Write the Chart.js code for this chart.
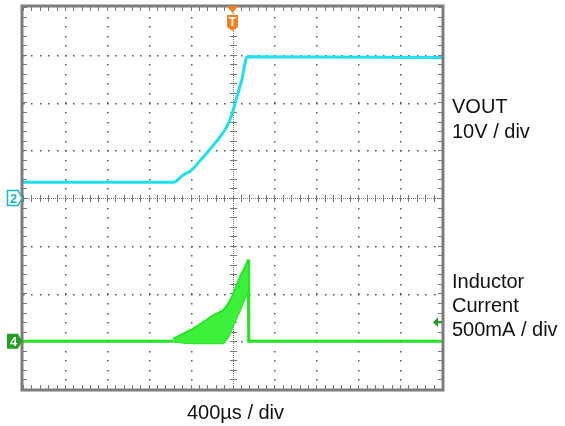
<!DOCTYPE html>
<html>
<head>
<meta charset="utf-8">
<script src="https://cdn.jsdelivr.net/npm/chart.js@4"></script>
<style>
  body { margin: 0; background: #fff; }
  #wrap { width: 565px; height: 426px; }
</style>
</head>
<body>
<div id="wrap"><canvas id="scope" width="565" height="426"></canvas></div>
<script>
// time in µs, 400 µs / div, trigger at 0
const voutTime = [-2000, -565, -470, -389, -279, -167, -55, -8, 24, 88, 141, 2000];
const voutVolts = [3.3, 3.3, 4.8, 5.9, 8.6, 11.5, 14.9, 17.4, 19.8, 24.7, 29.6, 29.4];

// inductor current burst envelope (mA)
const burstTime = [-565, -470, -374, -279, -183, -88, -40, 8, 72, 119, 151];
const burstUpper = [28, 80, 133, 202, 272, 325, 394, 499, 673, 778, 855];
const burstLower = [0, -15, -20, -20, -20, -20, 42, 168, 325, 450, 535];

// flat parts of the current trace
const idleLeftTime = [-2000, -565];
const idleLeftMa = [0, 0];
const idleRightTime = [151, 155, 2000];
const idleRightMa = [855, 0, 0];

const trigLevelMa = 200;

const voltsPerDiv = 10;
const maPerDiv = 500;
const currentGround = -3; // divisions

const cyan = '#1fe0ee';
const green = '#22e622';

function toPoints(xs, ys, f) {
  return xs.map((x, i) => ({ x: x, y: f(ys[i]) }));
}
const vDiv = v => v / voltsPerDiv;
const iDiv = i => currentGround + i / maPerDiv;

// scope graticule, drawn from the chart scales
const graticule = {
  id: 'graticule',
  beforeDatasetsDraw(chart) {
    const { ctx, chartArea: a, scales: { x, y } } = chart;
    ctx.save();
    ctx.fillStyle = '#555';
    // horizontal dotted lines
    for (let d = -3; d <= 3; d++) {
      const py = Math.round(y.getPixelForValue(d));
      if (d === 0) continue;
      for (let t = -2000; t <= 2000; t += 80) {
        ctx.fillRect(Math.round(x.getPixelForValue(t)), py, 1.5, 1.5);
      }
    }
    // vertical dotted lines
    for (let t = -1600; t <= 1600; t += 400) {
      const px = Math.round(x.getPixelForValue(t));
      if (t === 0) continue;
      for (let d = -4; d <= 4; d += 0.2) {
        ctx.fillRect(px, Math.round(y.getPixelForValue(d)), 1.5, 1.5);
      }
    }
    // centre axes: dense dots and small ticks
    ctx.fillStyle = '#777';
    const cx = Math.round(x.getPixelForValue(0));
    const cy = Math.round(y.getPixelForValue(0));
    for (let px = a.left; px < a.right; px += 2) ctx.fillRect(px, cy, 1, 1);
    for (let py = a.top; py < a.bottom; py += 2) ctx.fillRect(cx, py, 1, 1);
    for (let t = -2000; t <= 2000; t += 80) {
      const px = Math.round(x.getPixelForValue(t));
      ctx.fillRect(px, cy - 3, 1, 7);
      ctx.fillRect(px, a.top, 1, 4);
      ctx.fillRect(px, a.bottom - 4, 1, 4);
    }
    for (let d = -4; d <= 4.01; d += 0.2) {
      const py = Math.round(y.getPixelForValue(d));
      ctx.fillRect(cx - 3, py, 7, 1);
      ctx.fillRect(a.left, py, 4, 1);
      ctx.fillRect(a.right - 4, py, 4, 1);
    }
    ctx.restore();
  },
  afterDatasetsDraw(chart) {
    const { ctx, chartArea: a, scales: { x, y } } = chart;
    ctx.save();
    // frame
    ctx.strokeStyle = '#7d7d7d';
    ctx.lineWidth = 3;
    ctx.strokeRect(a.left - 1, a.top - 1, a.right - a.left + 2, a.bottom - a.top + 2);

    // channel 2 marker
    const y2 = y.getPixelForValue(0);
    ctx.beginPath();
    ctx.moveTo(7.5, y2 - 7.5); ctx.lineTo(18, y2 - 7.5); ctx.lineTo(22, y2);
    ctx.lineTo(18, y2 + 7.5); ctx.lineTo(7.5, y2 + 7.5); ctx.closePath();
    ctx.fillStyle = '#fff'; ctx.fill();
    ctx.strokeStyle = '#1ab8c4'; ctx.lineWidth = 1.5; ctx.stroke();
    ctx.fillStyle = '#1ab8c4';
    ctx.font = 'bold 13px "Liberation Sans", Arial, sans-serif';
    ctx.textAlign = 'center'; ctx.textBaseline = 'middle';
    ctx.fillText('2', 13.5, y2 + 1);

    // channel 4 marker
    const y4 = y.getPixelForValue(currentGround);
    ctx.beginPath();
    ctx.moveTo(7, y4 - 7.5); ctx.lineTo(18, y4 - 7.5); ctx.lineTo(22, y4);
    ctx.lineTo(18, y4 + 7.5); ctx.lineTo(7, y4 + 7.5); ctx.closePath();
    ctx.fillStyle = '#23a023'; ctx.fill();
    ctx.fillStyle = '#fff';
    ctx.fillText('4', 13.5, y4 + 1);

    // trigger marker
    const tx = x.getPixelForValue(0);
    ctx.fillStyle = '#f5801f';
    ctx.beginPath();
    ctx.moveTo(tx - 6, a.top - 1); ctx.lineTo(tx + 6, a.top - 1); ctx.lineTo(tx, a.top + 6); ctx.closePath();
    ctx.fill();
    ctx.beginPath();
    ctx.moveTo(tx - 5.5, a.top + 8); ctx.lineTo(tx + 5.5, a.top + 8);
    ctx.lineTo(tx + 5.5, a.top + 20); ctx.lineTo(tx, a.top + 24);
    ctx.lineTo(tx - 5.5, a.top + 20); ctx.closePath();
    ctx.fill();
    ctx.fillStyle = '#fff';
    ctx.font = 'bold 12px "Liberation Sans", Arial, sans-serif';
    ctx.fillText('T', tx, a.top + 15.5);

    // trigger level arrow (channel 4)
    const ty = y.getPixelForValue(iDiv(trigLevelMa));
    ctx.fillStyle = '#1f9a1f';
    ctx.beginPath();
    ctx.moveTo(a.right - 9, ty); ctx.lineTo(a.right - 4, ty - 5); ctx.lineTo(a.right - 4, ty + 5); ctx.closePath();
    ctx.fill();
    ctx.fillRect(a.right - 5, ty - 1, 5, 2);

    // labels
    ctx.fillStyle = '#111';
    ctx.font = '20px "Liberation Sans", Arial, sans-serif';
    ctx.textAlign = 'left'; ctx.textBaseline = 'alphabetic';
    ctx.fillText('VOUT', 452, 113);
    ctx.fillText('10V / div', 452, 138);
    ctx.fillText('Inductor', 452, 288);
    ctx.fillText('Current', 452, 312);
    ctx.fillText('500mA / div', 452, 336);
    ctx.textAlign = 'center';
    ctx.fillText('400µs / div', x.getPixelForValue(0) + 3, 419);
    ctx.restore();
  }
};

new Chart(document.getElementById('scope'), {
  type: 'line',
  data: {
    datasets: [{
      label: 'VOUT',
      data: toPoints(voutTime, voutVolts, vDiv),
      borderColor: cyan,
      borderWidth: 3,
      cubicInterpolationMode: 'monotone'
    }, {
      label: 'Burst upper',
      data: toPoints(burstTime, burstUpper, iDiv),
      borderColor: green,
      backgroundColor: '#3cf03c',
      borderWidth: 2,
      fill: '+1'
    }, {
      label: 'Burst lower',
      data: toPoints(burstTime, burstLower, iDiv),
      borderColor: green,
      borderWidth: 2
    }, {
      label: 'Current idle left',
      data: toPoints(idleLeftTime, idleLeftMa, iDiv),
      borderColor: green,
      borderWidth: 3
    }, {
      label: 'Current idle right',
      data: toPoints(idleRightTime, idleRightMa, iDiv),
      borderColor: green,
      borderWidth: 3
    }]
  },
  options: {
    responsive: false,
    animation: false,
    layout: { padding: { left: 23, top: 7, right: 123, bottom: 37 } },
    elements: { point: { radius: 0 } },
    plugins: { legend: { display: false }, tooltip: { enabled: false } },
    scales: {
      x: { type: 'linear', min: -2000, max: 2000, display: false },
      y: { type: 'linear', min: -4, max: 4, display: false }
    }
  },
  plugins: [graticule]
});
</script>
</body>
</html>
